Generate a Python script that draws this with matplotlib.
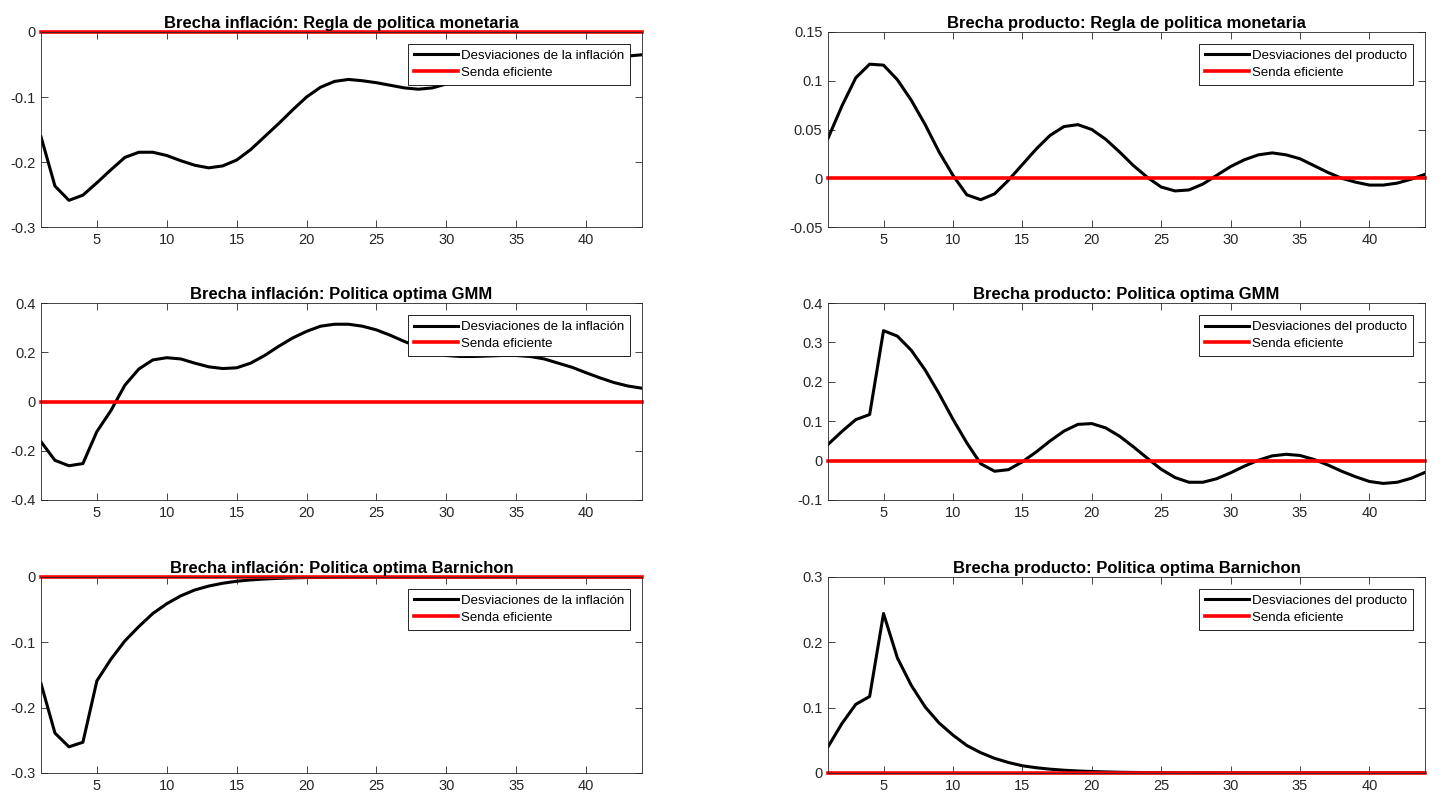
import matplotlib
matplotlib.use("Agg")
import matplotlib.pyplot as plt
from matplotlib.ticker import FuncFormatter, MultipleLocator

plt.rcParams['font.family'] = ['Liberation Sans Narrow', 'Liberation Sans', 'DejaVu Sans']

periodos = list(range(1, 45))

# brecha inflacion, regla de politica monetaria
infl_regla = [-0.161, -0.237, -0.259, -0.251, -0.232, -0.212, -0.193, -0.185, -0.185, -0.190,
              -0.198, -0.205, -0.209, -0.206, -0.197, -0.181, -0.161, -0.141, -0.120, -0.100,
              -0.085, -0.076, -0.073, -0.075, -0.078, -0.082, -0.086, -0.088, -0.086, -0.080,
              -0.072, -0.063, -0.055, -0.048, -0.043, -0.040, -0.039, -0.039, -0.040, -0.040,
              -0.040, -0.039, -0.037, -0.035]
# brecha producto, regla de politica monetaria
prod_regla = [0.041, 0.074, 0.103, 0.117, 0.116, 0.101, 0.080, 0.055, 0.027, 0.003,
              -0.017, -0.022, -0.016, -0.002, 0.014, 0.030, 0.044, 0.053, 0.055, 0.050,
              0.040, 0.027, 0.013, 0.001, -0.009, -0.013, -0.012, -0.006, 0.003, 0.012,
              0.019, 0.024, 0.026, 0.024, 0.020, 0.013, 0.006, 0.000, -0.004, -0.007,
              -0.007, -0.005, -0.001, 0.004]
# brecha inflacion, politica optima GMM
infl_gmm = [-0.163, -0.239, -0.261, -0.252, -0.122, -0.037, 0.066, 0.132, 0.169, 0.178,
            0.173, 0.156, 0.141, 0.134, 0.137, 0.156, 0.187, 0.224, 0.258, 0.285,
            0.306, 0.314, 0.314, 0.306, 0.291, 0.269, 0.244, 0.222, 0.202, 0.187,
            0.183, 0.183, 0.185, 0.187, 0.187, 0.183, 0.173, 0.156, 0.139, 0.117,
            0.096, 0.077, 0.063, 0.054]
# brecha producto, politica optima GMM
prod_gmm = [0.041, 0.074, 0.104, 0.117, 0.330, 0.316, 0.280, 0.230, 0.170, 0.105,
            0.045, -0.008, -0.027, -0.023, -0.003, 0.022, 0.050, 0.075, 0.092, 0.094,
            0.083, 0.062, 0.035, 0.006, -0.022, -0.043, -0.055, -0.055, -0.046, -0.031,
            -0.014, 0.001, 0.012, 0.016, 0.013, 0.003, -0.011, -0.027, -0.041, -0.053,
            -0.058, -0.055, -0.045, -0.030]
# brecha inflacion, politica optima Barnichon
infl_barn = [-0.163, -0.239, -0.260, -0.253, -0.159, -0.126, -0.098, -0.076, -0.056, -0.041,
             -0.029, -0.020, -0.014, -0.0097, -0.0066, -0.0046, -0.0032, -0.0022, -0.0015, -0.0010,
             -0.0007, -0.0005, -0.0003, -0.0002, -0.00015, -0.0001, -0.00007, -0.00005, -0.00003, -0.00002,
             -0.00002, -0.00001, 0.0, 0.0, 0.0, 0.0, 0.0, 0.0, 0.0, 0.0,
             0.0, 0.0, 0.0, 0.0]
# brecha producto, politica optima Barnichon
prod_barn = [0.040, 0.0755, 0.105, 0.117, 0.244, 0.176, 0.134, 0.101, 0.0765, 0.058,
             0.042, 0.031, 0.0224, 0.016, 0.011, 0.0080, 0.0058, 0.0042, 0.0030, 0.0022,
             0.0016, 0.0011, 0.0008, 0.0006, 0.0004, 0.0003, 0.0002, 0.00015, 0.0001, 0.00007,
             0.00005, 0.00004, 0.00003, 0.00002, 0.00001, 0.0, 0.0, 0.0, 0.0, 0.0,
             0.0, 0.0, 0.0, 0.0]
senda = [0.0] * len(periodos)

titulos = ["Brecha inflación: Regla de politica monetaria", "Brecha producto: Regla de politica monetaria",
           "Brecha inflación: Politica optima GMM", "Brecha producto: Politica optima GMM",
           "Brecha inflación: Politica optima Barnichon", "Brecha producto: Politica optima Barnichon"]
series = [infl_regla, prod_regla, infl_gmm, prod_gmm, infl_barn, prod_barn]
etiquetas = ["Desviaciones de la inflación", "Desviaciones del producto"] * 3
ylims = [(-0.3, 0), (-0.05, 0.15), (-0.4, 0.4), (-0.1, 0.4), (-0.3, 0), (0, 0.3)]
ypasos = [0.1, 0.05, 0.2, 0.1, 0.1, 0.1]

fig = plt.figure(figsize=(14.43, 7.94), dpi=100)
lefts = [0.0284, 0.5738]
widths = [0.4165, 0.4137]
bottoms = [0.7141, 0.3703, 0.0265]
heights = [0.2456, 0.248, 0.2469]

fmt = FuncFormatter(lambda v, _: '%g' % (round(v, 6) + 0.0))

for i in range(6):
    fila, col = i // 2, i % 2
    ax = fig.add_axes([lefts[col], bottoms[fila], widths[col], heights[fila]])
    ax.plot(periodos, series[i], color='black', lw=2.2, label=etiquetas[i])
    ax.plot(periodos, senda, color='red', lw=2.6, label="Senda eficiente", clip_on=False)
    ax.set_xlim(1, 44)
    ax.set_ylim(*ylims[i])
    ax.xaxis.set_major_locator(MultipleLocator(5))
    ax.yaxis.set_major_locator(MultipleLocator(ypasos[i]))
    ax.yaxis.set_major_formatter(fmt)
    ax.tick_params(direction='in', top=True, right=True, length=5, width=0.6,
                   labelsize=10.5, colors='#262626', pad=4)
    for s in ax.spines.values():
        s.set_linewidth(0.6)
        s.set_color('#262626')
    ax.set_title(titulos[i], fontsize=12, fontweight='bold', pad=3)
    leg = ax.legend(loc='upper right', fancybox=False, edgecolor='black', framealpha=1,
                    fontsize=9.5, borderaxespad=0.9, borderpad=0.45, handlelength=3.3,
                    handletextpad=0.25, labelspacing=0.35)
    leg.get_frame().set_linewidth(0.6)

fig.savefig("out.png", dpi=100)
